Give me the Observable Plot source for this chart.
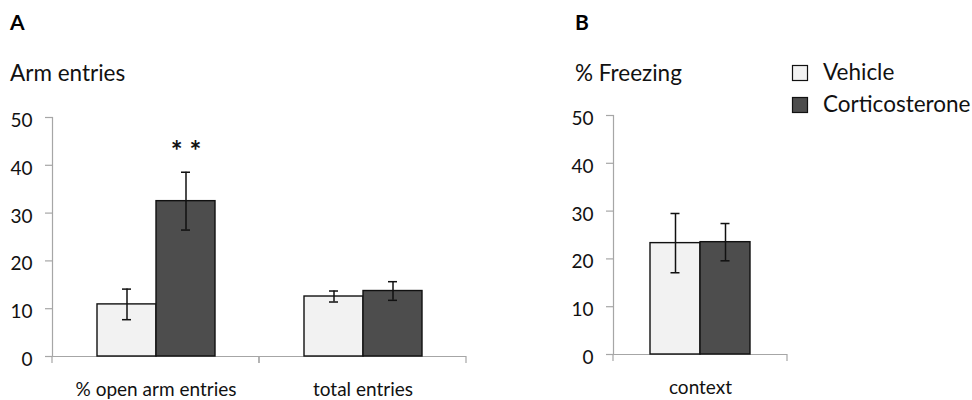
<!DOCTYPE html>
<html><head><meta charset="utf-8">
<script src="https://cdn.jsdelivr.net/npm/d3@7"></script>
<script src="https://cdn.jsdelivr.net/npm/@observablehq/plot@0.6"></script>
<style>
body{margin:0;background:#fff;}
#root{position:relative;width:972px;height:400px;overflow:hidden;background:#fff;}
#root > svg{position:absolute;top:0;}
</style></head><body><div id="root"></div>
<script>
// ---- data ----
const series = ["Vehicle", "Corticosterone"];
const seriesFill = ["#f2f2f2", "#4d4d4d"];
const armCategories = ["% open arm entries", "total entries"];
const armVehicleMean = [10.9, 12.55];
const armVehicleSem = [3.2, 1.15];
const armCortMean = [32.5, 13.7];
const armCortSem = [6.05, 1.95];
const freezeCategories = ["context"];
const freezeVehicleMean = [23.3];
const freezeVehicleSem = [6.2];
const freezeCortMean = [23.5];
const freezeCortSem = [3.9];
const yTicks = [0, 10, 20, 30, 40, 50];
const significance = [{category: "% open arm entries", series: "Corticosterone", label: "* *"}];
const panelLetters = ["A", "B"];
const panelTitles = ["Arm entries", "% Freezing"];

function rowsFor(categories, vm, vs, cm, cs) {
  const out = [];
  categories.forEach((c, i) => {
    out.push({category: c, series: series[0], mean: vm[i], sem: vs[i]});
    out.push({category: c, series: series[1], mean: cm[i], sem: cs[i]});
  });
  return out;
}
const armRows = rowsFor(armCategories, armVehicleMean, armVehicleSem, armCortMean, armCortSem);
const freezeRows = rowsFor(freezeCategories, freezeVehicleMean, freezeVehicleSem, freezeCortMean, freezeCortSem);

const FONT = "Lato, sans-serif";
const AXIS_GREY = "#a6a6a6";

function boundaryTicks(index, scales, values, dim) {
  const g = d3.create("svg:g").attr("stroke", AXIS_GREY).attr("stroke-width", 1.2);
  const y0 = scales.y(0);
  for (const x of [dim.marginLeft, dim.width - dim.marginRight]) {
    g.append("line").attr("x1", x).attr("x2", x).attr("y1", y0).attr("y2", y0 + 7);
  }
  return g.node();
}

function panel({categories, rows, width, marginLeft, marginRight, marginTop, marginBottom, capInset, notes}) {
  const byKey = new Map(rows.map(d => [d.category + "|" + d.series, d]));
  return Plot.plot({
    width, height: 400, marginLeft, marginRight, marginTop, marginBottom,
    style: {fontFamily: FONT, fontSize: "19px", color: "#000", background: "transparent", overflow: "visible"},
    fx: {domain: categories, padding: 0, axis: null, label: null},
    x: {domain: series, paddingInner: 0, paddingOuter: 0.739, axis: null},
    y: {domain: [0, 50], axis: null},
    color: {domain: series, range: seriesFill},
    marks: [
      Plot.frame({anchor: "left", stroke: AXIS_GREY, strokeWidth: 1.2, facetAnchor: "left"}),
      Plot.axisY({ticks: yTicks, tickSize: 7, tickFormat: () => "", stroke: AXIS_GREY, strokeWidth: 1.2, label: null}),
      Plot.axisY({ticks: yTicks, tickSize: 0, tickPadding: 20, fill: "#111", label: null, fontSize: 19, dy: 3.5}),
      Plot.axisFx({anchor: "bottom", tickSize: 0, tickPadding: 26, label: null, fill: "#111", fontSize: 19}),
      Plot.ruleY([0], {stroke: AXIS_GREY, strokeWidth: 1.2}),
      boundaryTicks,
      Plot.barY(rows, {fx: "category", x: "series", y: "mean", fill: "series", stroke: "#111", strokeWidth: 1.4}),
      Plot.ruleX(rows, {fx: "category", x: "series", y1: d => d.mean - d.sem, y2: d => d.mean + d.sem, stroke: "#111", strokeWidth: 1.5}),
      Plot.tickY(rows, {fx: "category", x: "series", y: d => d.mean - d.sem, stroke: "#111", strokeWidth: 1.5, insetLeft: capInset, insetRight: capInset}),
      Plot.tickY(rows, {fx: "category", x: "series", y: d => d.mean + d.sem, stroke: "#111", strokeWidth: 1.5, insetLeft: capInset, insetRight: capInset}),
      Plot.text(notes, {fx: "category", x: "series", y: d => { const r = byKey.get(d.category + "|" + d.series); return r.mean + r.sem; }, text: "label", dy: -20, fontSize: 28, fontWeight: "bold", fill: "#111"})
    ]
  });
}

const root = document.getElementById("root");
const a = panel({categories: armCategories, rows: armRows, width: 480, marginLeft: 51, marginRight: 14, marginTop: 117, marginBottom: 44, capInset: 25, notes: significance});
a.style.left = "0px";
root.appendChild(a);
const b = panel({categories: freezeCategories, rows: freezeRows, width: 260, marginLeft: 73, marginRight: 13, marginTop: 115, marginBottom: 46, capInset: 20.5, notes: []});
b.style.left = "540px";
root.appendChild(b);

// titles & legend overlay
const ov = d3.select(root).append("svg").attr("width", 972).attr("height", 400).style("left", "0px")
  .style("font-family", FONT).style("pointer-events", "none");
const titleX = [10, 575];
panelLetters.forEach((t, i) => {
  ov.append("text").attr("x", titleX[i]).attr("y", 30).attr("font-weight", "bold").attr("font-size", 21).attr("fill", "#000").text(t);
});
panelTitles.forEach((t, i) => {
  ov.append("text").attr("x", titleX[i]).attr("y", 81).attr("font-size", 22.5).attr("fill", "#111").text(t);
});
const legend = ov.append("g");
series.forEach((s, i) => {
  const y = 65 + i * 32;
  legend.append("rect").attr("x", 792.5).attr("y", y + 0.5).attr("width", 15).attr("height", 15)
    .attr("fill", seriesFill[i]).attr("stroke", "#111").attr("stroke-width", 1.2);
  legend.append("text").attr("x", 823).attr("y", y + 15).attr("font-size", 22.5).attr("fill", "#111").text(s);
});
</script></body></html>
